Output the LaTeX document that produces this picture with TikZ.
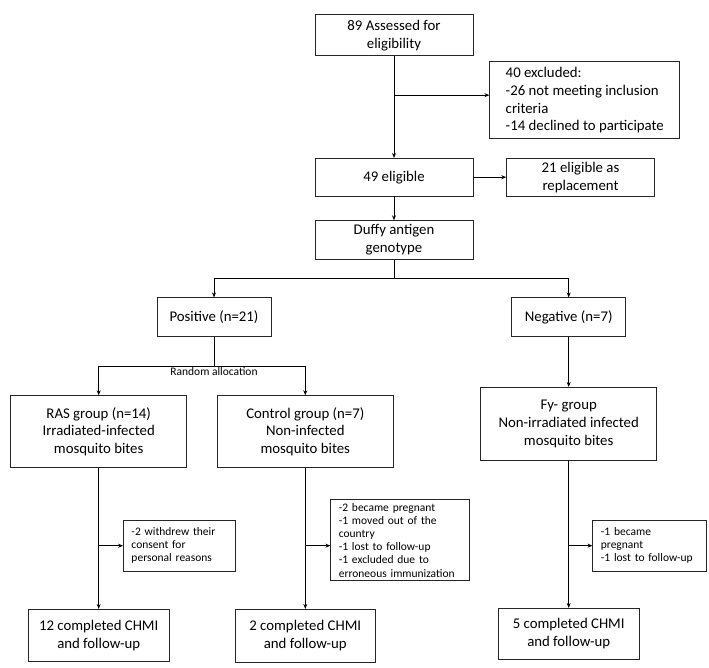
\documentclass[tikz,border=0pt]{standalone}
\usepackage{fontspec}
\setmainfont{Carlito}
\usetikzlibrary{arrows.meta}

\begin{document}
\begin{tikzpicture}[node distance=2cm, auto,
    >={Stealth[length=5pt,width=4pt]},
    line width=0.8pt,
    box/.style={draw=black!85, rectangle, align=center, inner sep=3pt,
        font=\fontsize{14.8}{17.9}\selectfont},
    note/.style={draw=black!85, rectangle, align=left, inner xsep=8pt,
        font=\fontsize{11.5}{13.2}\selectfont}]
    \useasboundingbox (-394pt,35.3pt) rectangle (315pt,-632.7pt);

    % Nodes
    \node [box, minimum width=158pt, minimum height=41pt] (assess) {89 Assessed for\\eligibility};
    \node [box, minimum width=158pt, minimum height=37.7pt, below of=assess, node distance=141.9pt] (elig) {49 eligible};
    \path (assess.south) -- (elig.north) coordinate[pos=0.383] (exclbr);
    \node [box, align=left, inner xsep=8pt, minimum width=190pt, minimum height=76.7pt, right of=exclbr, node distance=190.8pt, yshift=-5pt] (excl) {40 excluded:\\-26 not meeting inclusion\\criteria\\-14 declined to participate};
    \node [box, minimum width=147.6pt, minimum height=37.7pt, right of=elig, node distance=186.5pt] (repl) {21 eligible as\\replacement};
    \node [box, minimum width=158pt, minimum height=38.6pt, below of=elig, node distance=62.8pt] (duffy) {Duffy antigen\\genotype};
    \node [box, minimum width=114pt, minimum height=38.3pt, below of=duffy, node distance=77pt, xshift=-180pt] (pos) {Positive (n=21)};
    \node [box, minimum width=114pt, minimum height=38.3pt, right of=pos, node distance=354.7pt] (neg) {Negative (n=7)};
    \node [box, minimum width=176pt, minimum height=72pt, below of=pos, node distance=114.7pt, xshift=-115.3pt] (ras) {RAS group (n=14)\\Irradiated-infected\\mosquito bites};
    \node [box, minimum width=176pt, minimum height=72pt, right of=ras, node distance=206.6pt] (ctrl) {Control group (n=7)\\Non-infected\\mosquito bites};
    \node [box, minimum width=176pt, minimum height=72.7pt, below of=neg, node distance=106.7pt] (fy) {Fy- group\\Non-irradiated infected\\mosquito bites};
    \node [box, minimum width=140.7pt, minimum height=51.7pt, below of=ras, node distance=203.5pt] (done12) {12 completed CHMI\\and follow-up};
    \node [box, minimum width=139.3pt, minimum height=53pt, below of=ctrl, node distance=204.1pt] (done2) {2 completed CHMI\\and follow-up};
    \node [box, minimum width=141.4pt, minimum height=51pt, below of=fy, node distance=210.1pt] (done5) {5 completed CHMI\\and follow-up};

    \path (ras.south) -- (done12.north) coordinate[pos=0.551] (rasbr);
    \path (ctrl.south) -- (done2.north) coordinate[pos=0.551] (ctrlbr);
    \path (fy.south) -- (done5.north) coordinate[pos=0.578] (fybr);
    \node [note, text width=96pt, minimum height=51pt, right of=rasbr, node distance=80.8pt] (withdrew) {-2 withdrew their\\consent for\\personal reasons};
    \node [note, text width=123pt, minimum height=78.3pt, right of=ctrlbr, node distance=95pt, yshift=5.5pt] (pregnant) {-2 became pregnant\\-1 moved out of the\\country\\-1 lost to follow-up\\-1 excluded due to\\erroneous immunization};
    \node [note, text width=97.7pt, minimum height=51pt, right of=fybr, node distance=81pt] (lost) {-1 became\\pregnant\\-1 lost to follow-up};

    % Arrows
    \draw [->] (assess) -- (elig);
    \draw [->] (exclbr) -- (exclbr -| excl.west);
    \draw [->] (elig) -- (repl);
    \draw [->] (elig) -- (duffy);
    \draw (duffy.south) -- ++(0,-19pt) coordinate (split);
    \draw [->] (split) -| (pos.north);
    \draw [->] (split) -| (neg.north);
    \draw (pos.south) -- ++(0,-29.5pt) coordinate (alloc);
    \draw [->] (alloc) -| (ras.north);
    \draw [->] (alloc) -| (ctrl.north);
    \draw [->] (neg) -- (fy);
    \draw [->] (ras) -- (done12);
    \draw [->] (ctrl) -- (done2);
    \draw [->] (fy) -- (done5);
    \draw [->] (rasbr) -- (withdrew);
    \draw [->] (ctrlbr) -- (ctrlbr -| pregnant.west);
    \draw [->] (fybr) -- (lost);

    % Labels
    \node [below=0.5pt, inner sep=1pt, font=\fontsize{11.5}{13.2}\selectfont] (randlbl) at (alloc) {Random allocation};
\end{tikzpicture}
\end{document}
